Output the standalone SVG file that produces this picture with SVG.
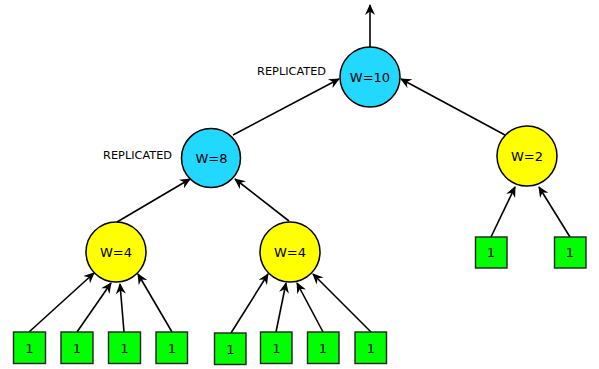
<svg xmlns="http://www.w3.org/2000/svg" width="599" height="369" viewBox="0 0 599 369">
  <style>
    .bg { fill: #ffffff; }
    .merge { stroke: #000; stroke-width: 1.5; }
    .repl { fill: #22d8ff; }
    .part { fill: #ffff00; }
    .leaf { fill: #00ff00; stroke: #222; stroke-width: 1.4; }
    .wt { font-family: "DejaVu Sans", sans-serif; font-size: 13px; text-anchor: middle; fill: #000; }
    .note { font-family: "DejaVu Sans", sans-serif; font-size: 11.3px; text-anchor: end; fill: #000; }
    .edge { stroke: #000; stroke-width: 1.6; fill: none; marker-end: url(#head); }
  </style>
  <defs>
    <marker id="head" viewBox="0 0 11 10" refX="10" refY="5" markerWidth="11" markerHeight="10" markerUnits="userSpaceOnUse" orient="auto">
      <path d="M0,0 L11,5 L0,10 L3.5,5 z" fill="#000"/>
    </marker>
  </defs>
  <rect class="bg" x="0" y="0" width="599" height="369"/>

  <g id="connectors">
    <line class="edge" x1="370" y1="47" x2="370" y2="5"/>
    <line class="edge" x1="233" y1="135" x2="339" y2="79"/>
    <line class="edge" x1="505" y1="135" x2="401" y2="79"/>
    <line class="edge" x1="117" y1="222" x2="190" y2="179"/>
    <line class="edge" x1="289" y1="221" x2="235" y2="179"/>
    <line class="edge" x1="29" y1="332" x2="94" y2="273"/>
    <line class="edge" x1="77" y1="332" x2="111" y2="283"/>
    <line class="edge" x1="124" y1="332" x2="120" y2="284"/>
    <line class="edge" x1="172" y1="332" x2="138" y2="274"/>
    <line class="edge" x1="231" y1="333" x2="268" y2="274"/>
    <line class="edge" x1="276" y1="332" x2="286" y2="283"/>
    <line class="edge" x1="323" y1="332" x2="297" y2="283"/>
    <line class="edge" x1="371" y1="332" x2="313" y2="274"/>
    <line class="edge" x1="491" y1="237" x2="515" y2="187"/>
    <line class="edge" x1="570" y1="237" x2="539" y2="187"/>
  </g>

  <g id="w10">
    <circle class="merge repl" cx="370" cy="77" r="30"/>
    <text class="wt" x="370" y="81.5">W=10</text>
    <text class="note" x="326" y="74.5">REPLICATED</text>
  </g>
  <g id="w8">
    <circle class="merge repl" cx="211" cy="158" r="29.5"/>
    <text class="wt" x="211.5" y="162.5">W=8</text>
    <text class="note" x="172" y="158.5">REPLICATED</text>
  </g>
  <g id="w2">
    <circle class="merge part" cx="527" cy="156" r="30"/>
    <text class="wt" x="527" y="160.5">W=2</text>
  </g>
  <g id="w4a">
    <circle class="merge part" cx="116" cy="252" r="30"/>
    <text class="wt" x="116" y="256.5">W=4</text>
  </g>
  <g id="w4b">
    <circle class="merge part" cx="290" cy="252" r="30"/>
    <text class="wt" x="290" y="256.5">W=4</text>
  </g>

  <g id="leaf-a1"><rect class="leaf" x="13.5" y="332" width="32" height="31.5"/><text class="wt" x="29.5" y="352.5">1</text></g>
  <g id="leaf-a2"><rect class="leaf" x="61" y="332" width="32" height="31.5"/><text class="wt" x="77" y="352.5">1</text></g>
  <g id="leaf-a3"><rect class="leaf" x="108.5" y="332" width="32" height="31.5"/><text class="wt" x="124.5" y="352.5">1</text></g>
  <g id="leaf-a4"><rect class="leaf" x="156" y="332" width="31.5" height="31.5"/><text class="wt" x="172" y="352.5">1</text></g>

  <g id="leaf-b1"><rect class="leaf" x="214.5" y="333" width="31.5" height="31.5"/><text class="wt" x="230.5" y="353.5">1</text></g>
  <g id="leaf-b2"><rect class="leaf" x="260.5" y="332" width="31.5" height="31.5"/><text class="wt" x="276.5" y="352.5">1</text></g>
  <g id="leaf-b3"><rect class="leaf" x="307.5" y="332" width="31.5" height="31.5"/><text class="wt" x="323" y="352.5">1</text></g>
  <g id="leaf-b4"><rect class="leaf" x="355" y="332" width="31.5" height="31.5"/><text class="wt" x="371" y="352.5">1</text></g>

  <g id="leaf-c1"><rect class="leaf" x="475.5" y="237" width="31.5" height="31"/><text class="wt" x="491" y="257">1</text></g>
  <g id="leaf-c2"><rect class="leaf" x="554.5" y="237" width="31.5" height="31"/><text class="wt" x="570" y="257">1</text></g>
</svg>
